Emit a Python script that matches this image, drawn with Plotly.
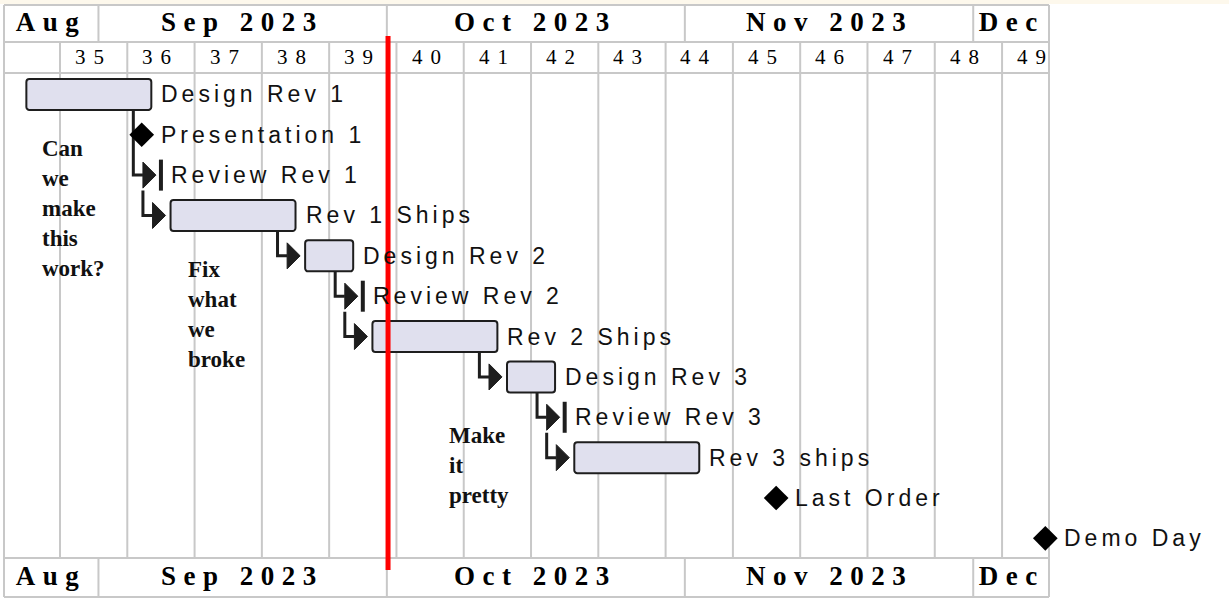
import plotly.graph_objects as go
import pandas as pd
from datetime import date

# ---------------- data ----------------
task_names = ["Design Rev 1", "Presentation 1", "Review Rev 1", "Rev 1 Ships",
              "Design Rev 2", "Review Rev 2", "Rev 2 Ships", "Design Rev 3",
              "Review Rev 3", "Rev 3 ships", "Last Order", "Demo Day"]
task_starts = ["2023-08-24", "2023-09-05", "2023-09-07", "2023-09-08",
               "2023-09-22", "2023-09-28", "2023-09-29", "2023-10-13",
               "2023-10-19", "2023-10-20", "2023-11-10", "2023-12-08"]
task_ends = ["2023-09-06", "2023-09-05", "2023-09-07", "2023-09-21",
             "2023-09-27", "2023-09-28", "2023-10-12", "2023-10-18",
             "2023-10-19", "2023-11-02", "2023-11-10", "2023-12-08"]
task_kinds = ["bar", "diamond", "line", "bar", "bar", "line", "bar", "bar",
              "line", "bar", "diamond", "diamond"]
dependencies = [(0, 2), (2, 3), (3, 4), (4, 5), (5, 6), (6, 7), (7, 8), (8, 9)]

week_numbers = [35, 36, 37, 38, 39, 40, 41, 42, 43, 44, 45, 46, 47, 48, 49]
month_labels = ["Aug", "Sep 2023", "Oct 2023", "Nov 2023", "Dec"]
month_starts = ["2023-08-01", "2023-09-01", "2023-10-01", "2023-11-01", "2023-12-01"]
today = "2023-10-01 03:00"

note_texts = ["Can<br>we<br>make<br>this<br>work?",
              "Fix<br>what<br>we<br>broke",
              "Make<br>it<br>pretty"]
note_dates = ["2023-08-26 03:00", "2023-09-10 08:00", "2023-10-07 11:00"]

# ---------------- layout constants (pixels) ----------------
W, H = 1229, 609
PX_DAY = 67.29 / 7.0
X_REF = pd.Timestamp("2023-08-28")   # calibration: this date sits at x=60px
X_REF_PX = 60.0
HALF_DAY = pd.Timedelta(hours=12)
ROW0, ROW_H = 94.4, 40.36
BAR_H = 31
FRAME_L, FRAME_R = 4, 1049
Y_TOP, Y_MW, Y_WB, Y_BB, Y_BOT = 5, 42, 73, 558, 597

GRID = "#c8c8c8"
DARK = "#1e1e1e"
BAR_FILL = "#e0e0ee"


def px2date(px):
    return X_REF + pd.Timedelta(days=(px - X_REF_PX) / PX_DAY)


def shift(ts, px):
    return ts + pd.Timedelta(days=px / PX_DAY)


x_left = px2date(0)
x_right = px2date(W)
left_d = px2date(FRAME_L)
right_d = px2date(FRAME_R)

starts = [pd.Timestamp(s) + HALF_DAY for s in task_starts]
ends = [pd.Timestamp(e) + HALF_DAY for e in task_ends]
rows = [ROW0 + i * ROW_H for i in range(len(task_names))]

fig = go.Figure()
shapes = []
annotations = []

# cream strip on top
shapes.append(dict(type="rect", xref="paper", yref="y", x0=0, x1=1, y0=0, y1=Y_TOP - 1,
                   fillcolor="#fdf8ec", line_width=0, layer="below"))

# horizontal frame lines
for yy in [Y_TOP, Y_MW, Y_WB, Y_BB, Y_BOT]:
    shapes.append(dict(type="line", xref="x", yref="y", x0=left_d, x1=right_d, y0=yy, y1=yy,
                       line=dict(color=GRID, width=2), layer="below"))
# vertical frame lines
for xx in [left_d, right_d]:
    shapes.append(dict(type="line", xref="x", yref="y", x0=xx, x1=xx, y0=Y_TOP, y1=Y_BOT,
                       line=dict(color=GRID, width=2), layer="below"))

# months
mstarts = [pd.Timestamp(m) for m in month_starts]
mnext = mstarts[1:] + [mstarts[-1] + pd.offsets.MonthBegin(1)]
for lab, ms, mn in zip(month_labels, mstarts, mnext):
    if ms > left_d:
        for (ya, yb) in [(Y_TOP, Y_MW), (Y_BB, Y_BOT)]:
            shapes.append(dict(type="line", xref="x", yref="y", x0=ms, x1=ms, y0=ya, y1=yb,
                               line=dict(color=GRID, width=2), layer="below"))
    a = max(ms, left_d)
    b = min(mn, right_d)
    c = a + (b - a) / 2
    for yc in [(Y_TOP + Y_MW) / 2 - 2, (Y_BB + Y_BOT) / 2 - 2]:
        annotations.append(dict(x=c, y=yc, xref="x", yref="y", text=lab, showarrow=False,
                                xanchor="center", yanchor="middle", align="center",
                                borderpad=0, borderwidth=0,
                                font=dict(family="Liberation Serif", size=27, color="#000",
                                          weight="bold")))

# weeks
for wk in week_numbers:
    mon = pd.Timestamp(date.fromisocalendar(2023, wk, 1))
    shapes.append(dict(type="line", xref="x", yref="y", x0=mon, x1=mon, y0=Y_MW, y1=Y_BB,
                       line=dict(color=GRID, width=2), layer="below"))
    annotations.append(dict(x=mon + pd.Timedelta(days=3.5), y=(Y_MW + Y_WB) / 2 - 1,
                            xref="x", yref="y", text=str(wk), showarrow=False,
                            xanchor="center", yanchor="middle", align="center",
                            borderpad=0, borderwidth=0,
                            font=dict(family="Liberation Serif", size=21, color="#000")))

# dependency arrows
line_x, line_y, tri_x, tri_y = [], [], [], []
for p, c in dependencies:
    xv = shift(ends[p], -18)
    y0 = rows[p] + BAR_H / 2
    y1 = rows[c]
    tip = shift(starts[c], -5)
    base = shift(tip, -13)
    line_x += [xv, xv, base, None]
    line_y += [y0, y1, y1, None]
    tri_x += [base, tip, base, base, None]
    tri_y += [y1 - 13, y1, y1 + 13, y1 - 13, None]
fig.add_trace(go.Scatter(x=line_x, y=line_y, mode="lines",
                         line=dict(color=DARK, width=3), hoverinfo="skip"))
fig.add_trace(go.Scatter(x=tri_x, y=tri_y, mode="lines", fill="toself", fillcolor=DARK,
                         line=dict(color=DARK, width=1), hoverinfo="skip"))

# bars
bi = [i for i, k in enumerate(task_kinds) if k == "bar"]
fig.add_trace(go.Bar(
    orientation="h",
    y=[rows[i] for i in bi],
    base=[starts[i] for i in bi],
    x=[(ends[i] - starts[i]).total_seconds() * 1000 for i in bi],
    width=BAR_H,
    marker=dict(color=BAR_FILL, line=dict(color=DARK, width=2), cornerradius=3),
    hoverinfo="skip",
))

# milestone lines
li = [i for i, k in enumerate(task_kinds) if k == "line"]
mx, my = [], []
for i in li:
    mx += [starts[i], starts[i], None]
    my += [rows[i] - BAR_H / 2, rows[i] + BAR_H / 2, None]
fig.add_trace(go.Scatter(x=mx, y=my, mode="lines", line=dict(color=DARK, width=4),
                         hoverinfo="skip"))

# diamonds
di = [i for i, k in enumerate(task_kinds) if k == "diamond"]
fig.add_trace(go.Scatter(x=[starts[i] for i in di], y=[rows[i] for i in di], mode="markers",
                         marker=dict(symbol="diamond", size=19, color="#000"),
                         cliponaxis=False, hoverinfo="skip"))

# task labels
for i, name in enumerate(task_names):
    off = {"bar": 10, "line": 10, "diamond": 19}[task_kinds[i]]
    annotations.append(dict(x=ends[i], y=rows[i], xref="x", yref="y", text=name,
                            showarrow=False, xanchor="left", yanchor="middle", align="left",
                            xshift=off, borderpad=0, borderwidth=0,
                            font=dict(family="Liberation Sans", size=23, color="#111")))

# notes
note_tops = [136, 257, 423]
for t, d, yt in zip(note_texts, note_dates, note_tops):
    annotations.append(dict(x=pd.Timestamp(d), y=yt, xref="x", yref="y", text=t,
                            showarrow=False, xanchor="left", yanchor="top", align="left",
                            borderpad=0, borderwidth=0,
                            font=dict(family="Liberation Serif", size=23, color="#111",
                                      weight="bold")))

# today line
shapes.append(dict(type="line", xref="x", yref="y", x0=pd.Timestamp(today), x1=pd.Timestamp(today),
                   y0=36, y1=570, line=dict(color="#ff0000", width=5), layer="above"))

fig.update_layout(
    width=W, height=H, autosize=False,
    margin=dict(l=0, r=0, t=0, b=0, pad=0),
    paper_bgcolor="white", plot_bgcolor="white",
    showlegend=False,
    xaxis=dict(type="date", range=[x_left, x_right], visible=False, fixedrange=True,
               domain=[0, 1]),
    yaxis=dict(range=[H, 0], visible=False, fixedrange=True, domain=[0, 1]),
    shapes=shapes, annotations=annotations,
)

css = ("text.annotation-text[style*='font-size: 27px']{letter-spacing:7.5px}"
       "text.annotation-text[style*='font-size: 21px']{letter-spacing:8px}"
       "text.annotation-text[style*='font-size: 23px'][style*='Sans']{letter-spacing:4px}")
post = ("var s=document.createElement('style');s.textContent=\"" + css + "\";"
        "document.head.appendChild(s);")

fig.write_html("out.html", config={"displayModeBar": False}, post_script=post)
